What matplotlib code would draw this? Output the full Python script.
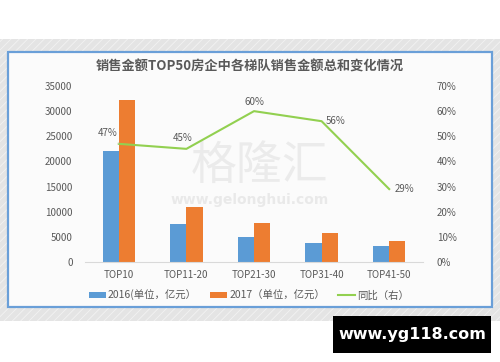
import matplotlib
matplotlib.use("Agg")
import matplotlib.pyplot as plt
from matplotlib.patches import Rectangle
from matplotlib.lines import Line2D
from matplotlib.patches import Patch
import numpy as np

plt.rcParams['font.family'] = ['Noto Sans CJK SC', 'DejaVu Sans']
plt.rcParams['hatch.linewidth'] = 0.6

categories = ["TOP10", "TOP11-20", "TOP21-30", "TOP31-40", "TOP41-50"]
sales_2016 = [22000, 7600, 4900, 3720, 3200]
sales_2017 = [32300, 11000, 7800, 5800, 4130]
yoy = [0.47, 0.45, 0.60, 0.56, 0.29]
yoy_labels = ["47%", "45%", "60%", "56%", "29%"]
left_ticks = [0, 5000, 10000, 15000, 20000, 25000, 30000, 35000]
right_ticks = [0, 0.1, 0.2, 0.3, 0.4, 0.5, 0.6, 0.7]

W, H = 500, 362
fig = plt.figure(figsize=(5, 3.62), dpi=100)
fig.patch.set_facecolor("white")

def fx(px): return px / W
def fy(py): return 1 - py / H

# striped gray band
band = Rectangle((0, fy(321)), 1, (321 - 39) / H, transform=fig.transFigure,
                 facecolor="#e4e4e4", edgecolor="#f2f2f2", hatch="////", lw=0, zorder=0)
fig.patches.append(band)
# chart frame
frame = Rectangle((fx(8), fy(307)), (492 - 8) / W, (307 - 52) / H, transform=fig.transFigure,
                  facecolor="#fbfbfb", edgecolor="#6a9fd8", lw=1.6, zorder=1)
fig.patches.append(frame)
# black box watermark
box = Rectangle((fx(333), fy(353)), (491 - 333) / W, (353 - 316) / H, transform=fig.transFigure,
                facecolor="black", edgecolor="none", zorder=1)
fig.patches.append(box)
fig.text(fx(412), fy(335), "www.yg118.com", color="white", fontsize=11.5, fontweight="bold",
         family="DejaVu Sans", ha="center", va="center", zorder=5)

# faint watermark
fig.text(fx(260), fy(166), "格隆汇", color="#d8d8d8", alpha=0.45, fontsize=33,
         fontweight="light", ha="center", va="center", zorder=2)
fig.text(fx(250), fy(200), "www.gelonghui.com", color="#d8d8d8", alpha=0.5, fontsize=10,
         fontweight="bold", family="DejaVu Sans", ha="center", va="center", zorder=2)

ax = fig.add_axes([fx(85), fy(262), (423 - 85) / W, (262 - 86) / H])
ax.set_facecolor("none")
ax.set_zorder(3)
x = np.arange(len(categories))
bw = 0.24
ax.bar(x - bw / 2, sales_2016, bw, color="#5b9bd5", label="2016(单位，亿元）")
ax.bar(x + bw / 2, sales_2017, bw, color="#ed7d31", label="2017（单位，亿元）")
ax.set_xlim(-0.5, len(categories) - 0.5)
ax.set_ylim(0, 35000)
ax.set_yticks(left_ticks)
ax.set_yticklabels([str(t) for t in left_ticks])
ax.set_xticks(x)
ax.set_xticklabels(categories)
for s in ["top", "right", "left"]:
    ax.spines[s].set_visible(False)
ax.spines["bottom"].set_color("#d9d9d9")
ax.tick_params(axis="both", length=0, labelsize=7, colors="#595959")
ax.tick_params(axis="y", pad=9)
ax.tick_params(axis="x", pad=6)

ax2 = ax.twinx()
ax2.set_ylim(0, 0.7)
ax2.set_yticks(right_ticks)
ax2.set_yticklabels([f"{int(round(t*100))}%" for t in right_ticks])
for s in ["top", "right", "left", "bottom"]:
    ax2.spines[s].set_visible(False)
ax2.tick_params(axis="y", length=0, labelsize=7, colors="#595959", pad=10)
ax2.plot(x, yoy, color="#92d050", lw=1.5, label="同比（右）")

offsets = [(-0.17, 0.045), (-0.05, 0.045), (0.0, 0.035), (0.2, 0.0), (0.23, 0.0)]
for i, (xi, yi) in enumerate(zip(x, yoy)):
    dx, dy = offsets[i]
    if i == 0:
        ax2.annotate(yoy_labels[i], xy=(xi, yi), xytext=(xi + dx, yi + dy),
                     fontsize=7, color="#595959", ha="center", va="center",
                     arrowprops=dict(arrowstyle="-", color="#bfbfbf", lw=0.5,
                                     shrinkA=3, shrinkB=0))
    else:
        ax2.text(xi + dx, yi + dy, yoy_labels[i], fontsize=7, color="#595959",
                 ha="center", va="center")

fig.text(fx(250), fy(67), "销售金额TOP50房企中各梯队销售金额总和变化情况", fontsize=9.5,
         fontweight="bold", color="#595959", ha="center", va="center", zorder=5)

handles = [Patch(facecolor="#5b9bd5"), Patch(facecolor="#ed7d31"),
           Line2D([0], [0], color="#92d050", lw=1.5)]
labels = ["2016(单位，亿元）", "2017（单位，亿元）", "同比（右）"]
fig.legend(handles, labels, loc="center", bbox_to_anchor=(fx(249), fy(295)), ncol=3,
           frameon=False, fontsize=7.5, handlelength=1.6, handleheight=0.5,
           handletextpad=0.2, columnspacing=1.3, labelcolor="#595959")

fig.savefig("out.png", dpi=100)
